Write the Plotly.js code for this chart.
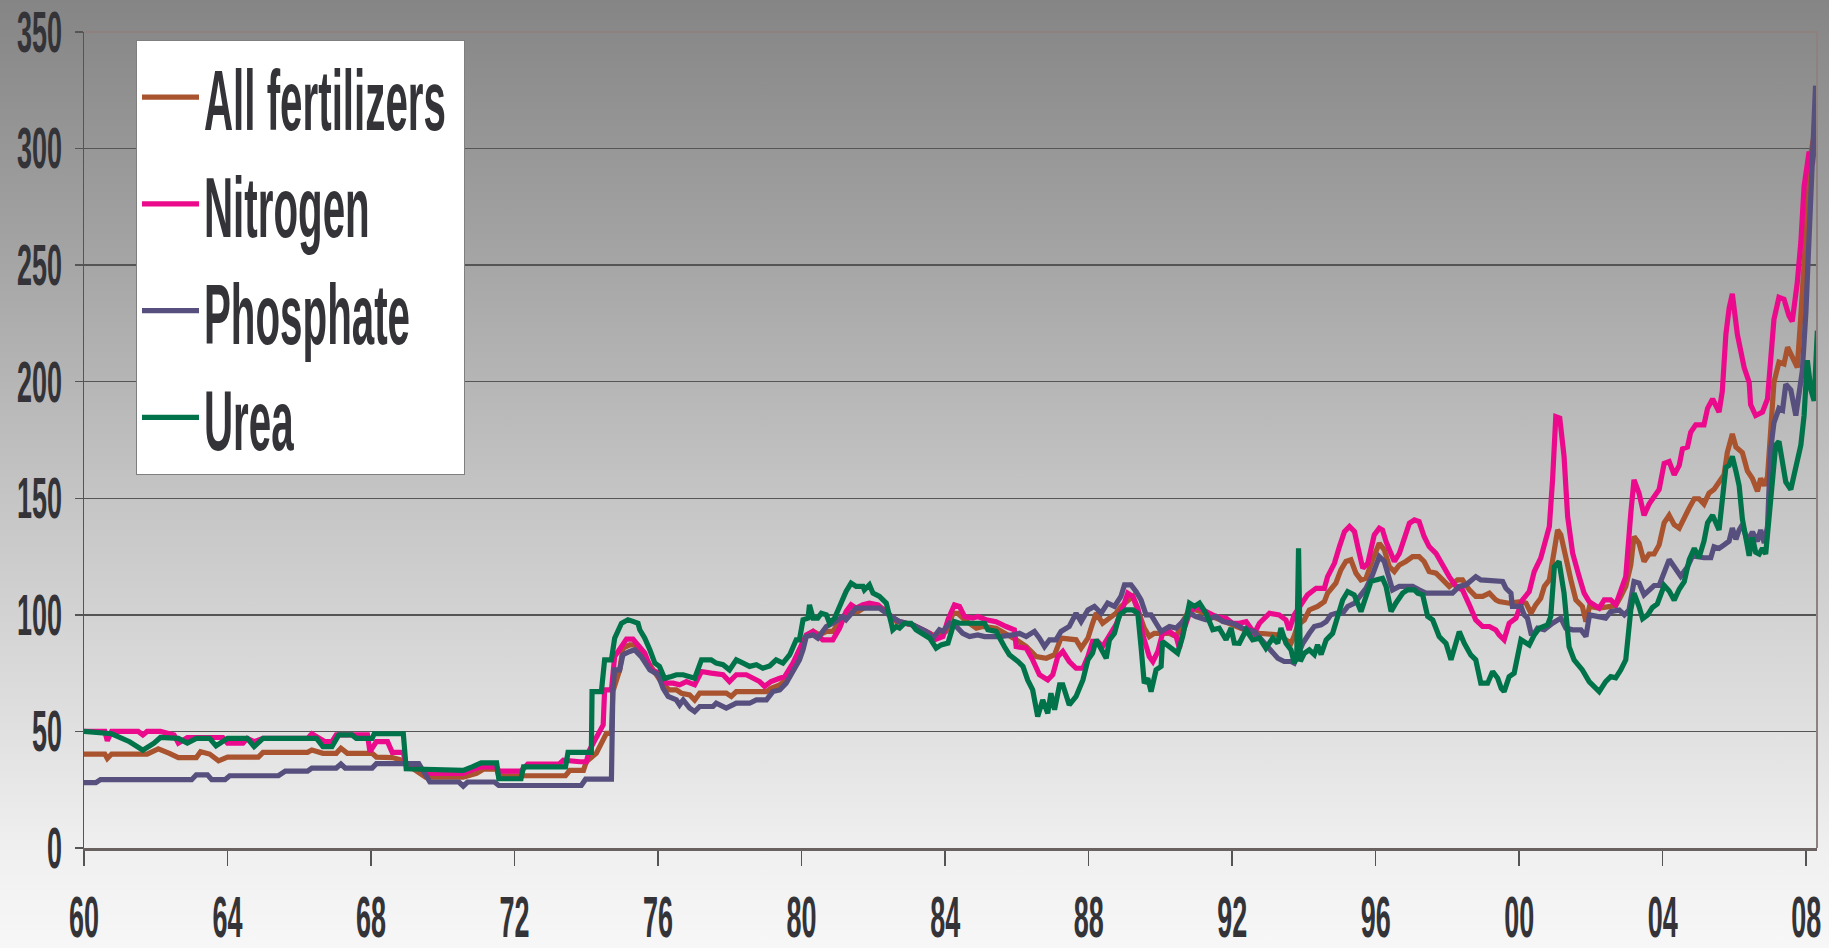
<!DOCTYPE html>
<html>
<head>
<meta charset="utf-8">
<script src="https://cdn.plot.ly/plotly-3.0.1.min.js"></script>
<style>
html,body{margin:0;padding:0;}
body{width:1829px;height:948px;overflow:hidden;
background:linear-gradient(to bottom,#858585 0%,#a2a2a2 25%,#c2c2c2 50%,#dedede 75%,#f0f0f0 90%,#f7f7f7 100%);}
#chart{width:1829px;height:948px;}
</style>
</head>
<body>
<div id="chart"></div>
<script>
// [year, index value]
const allFertilizers = [[1960.00,40.3],[1960.58,40.3],[1960.65,38.4],[1960.77,40.3],[1961.76,40.3],[1962.07,42.5],[1962.38,40.6],[1962.63,38.8],[1963.13,38.8],[1963.25,41.3],[1963.50,40.3],[1963.75,37.4],[1964.00,39],[1964.86,39],[1964.99,41],[1966.23,41],[1966.35,42],[1966.66,40.6],[1967.03,40.6],[1967.16,42.8],[1967.34,40.6],[1968.03,40.6],[1968.15,39],[1968.59,38.8],[1968.90,37.5],[1968.98,36],[1969.52,30.4],[1970.57,30.4],[1970.94,32],[1971.13,33.8],[1971.50,33.8],[1971.56,31],[1973.42,31],[1973.54,33.3],[1973.92,33.3],[1974.00,37],[1974.28,40.7],[1974.56,49.2],[1974.70,49.2],[1974.74,67.1],[1974.93,76.4],[1975.02,85.7],[1975.21,87.1],[1975.35,87.1],[1975.49,85],[1975.67,80.7],[1975.95,75],[1976.14,70],[1976.32,67.8],[1976.51,67.8],[1976.65,66.4],[1976.88,65.7],[1977.02,63.5],[1977.16,66.4],[1977.90,66.4],[1978.04,65],[1978.18,67.1],[1979.02,67.1],[1979.15,68.5],[1979.39,70],[1979.57,72.1],[1979.76,77.9],[1979.94,85],[1980.13,90.7],[1980.32,92.9],[1980.50,91.4],[1980.69,92.9],[1980.87,92.9],[1981.06,97.1],[1981.24,100.7],[1981.43,101.4],[1981.57,101.4],[1981.80,103.6],[1982.17,103.6],[1982.36,101.4],[1982.64,97.1],[1983.10,95.7],[1983.57,92.5],[1983.75,90.7],[1984.03,92.9],[1984.22,100.7],[1984.35,100.7],[1984.54,97.9],[1984.87,94.3],[1985.05,95],[1985.42,94.3],[1985.70,92.1],[1985.98,89.3],[1986.26,86.4],[1986.54,82.1],[1986.82,81.4],[1987.05,82.9],[1987.23,90],[1987.65,89.3],[1987.79,85.7],[1987.98,90],[1988.11,96.4],[1988.21,100.7],[1988.39,96.4],[1988.58,98.6],[1988.76,100.7],[1988.90,103.6],[1989.09,106.4],[1989.23,107.9],[1989.37,102.1],[1989.55,94.3],[1989.69,90.7],[1989.83,92.1],[1990.25,92.1],[1990.44,90.7],[1990.62,97.1],[1990.81,102.1],[1990.99,102.1],[1991.27,100.7],[1991.55,98.6],[1991.92,96.4],[1992.20,95],[1992.48,92.8],[1992.76,92.1],[1993.31,91.4],[1993.50,89.3],[1993.64,87.8],[1993.73,91],[1993.83,95.7],[1994.01,97.8],[1994.15,102.1],[1994.38,103.6],[1994.57,105.7],[1994.66,109.3],[1994.89,113.6],[1995.03,119.3],[1995.17,122.9],[1995.31,123.6],[1995.45,117.9],[1995.59,115],[1995.73,115.7],[1995.91,123.6],[1996.10,130.7],[1996.24,127.9],[1996.38,120.7],[1996.52,118.6],[1996.66,121.4],[1996.84,122.9],[1997.03,125],[1997.21,125],[1997.35,122.9],[1997.49,118.6],[1997.68,117.9],[1997.87,115],[1998.05,112.2],[1998.28,115],[1998.42,115],[1998.61,110.7],[1998.79,107.9],[1998.98,107.9],[1999.17,109.3],[1999.35,106.4],[1999.44,105.7],[1999.72,105],[2000.05,105.7],[2000.19,105],[2000.33,100.7],[2000.46,104.3],[2000.60,107.1],[2000.70,112.2],[2000.84,115],[2000.98,127.9],[2001.07,136.4],[2001.16,134.3],[2001.30,123.6],[2001.44,115],[2001.58,106.4],[2001.76,103.6],[2001.86,97.1],[2001.96,103.6],[2002.23,102.9],[2002.69,104],[2002.83,107.9],[2002.97,112.2],[2003.11,121.4],[2003.20,133.6],[2003.34,130.7],[2003.48,122.9],[2003.62,126.1],[2003.76,126.1],[2003.90,130],[2004.04,139.5],[2004.18,142.7],[2004.32,138.7],[2004.46,137.2],[2004.60,142],[2004.74,145.9],[2004.88,149.8],[2005.01,149.8],[2005.15,147.5],[2005.29,152.2],[2005.43,153.8],[2005.57,157],[2005.71,160.1],[2005.80,169.6],[2005.94,177.6],[2006.04,172],[2006.22,169.6],[2006.36,161.7],[2006.50,158.5],[2006.64,153],[2006.73,158.5],[2006.83,155.4],[2006.92,159.3],[2007.01,179.1],[2007.10,199.7],[2007.24,208.4],[2007.38,207.6],[2007.48,214.8],[2007.61,210.8],[2007.75,206.1],[2007.85,228.2],[2007.94,248.8],[2008.03,274.2],[2008.13,297.9],[2008.22,305.9],[2008.31,309]];

const nitrogen = [[1960.00,50],[1960.58,50],[1960.65,46],[1960.77,50],[1961.51,50],[1961.64,48.5],[1961.76,50],[1962.13,50],[1962.51,48.5],[1962.63,45],[1962.88,47.4],[1963.87,47.4],[1964.00,45],[1964.43,45],[1964.55,47],[1964.74,45.6],[1964.99,47],[1966.23,47],[1966.35,49],[1966.60,47],[1966.72,45.6],[1966.91,45.6],[1967.03,48.5],[1967.90,48.5],[1967.97,41.3],[1968.15,45.6],[1968.46,45.6],[1968.59,41],[1968.90,41],[1968.98,35.5],[1969.45,33.3],[1969.58,32],[1970.57,32],[1970.82,33.5],[1971.07,34.8],[1971.50,34.8],[1971.56,33],[1972.18,33],[1972.37,36],[1973.24,36],[1973.36,37.7],[1973.82,37],[1974.00,37],[1974.09,42],[1974.33,48.5],[1974.47,52.8],[1974.51,67.8],[1974.70,67.8],[1974.79,82.1],[1974.98,86.4],[1975.12,89.6],[1975.30,89.6],[1975.44,87.1],[1975.63,83.6],[1975.81,76.4],[1976.04,75],[1976.23,70.7],[1976.42,70.7],[1976.60,70],[1976.79,71.4],[1977.02,70],[1977.21,75.7],[1977.48,75],[1977.81,74.3],[1977.99,71.4],[1978.18,74.3],[1978.46,74.3],[1978.64,72.8],[1978.83,71.4],[1978.97,69.3],[1979.15,71.4],[1979.39,72.8],[1979.53,73.5],[1979.76,79.3],[1979.94,85],[1980.13,91.4],[1980.32,92.9],[1980.45,91.4],[1980.59,89.3],[1980.87,89.3],[1981.06,94.3],[1981.24,101.4],[1981.38,104.3],[1981.52,102.9],[1981.71,104.3],[1981.89,105],[1982.13,104.3],[1982.22,102.9],[1982.36,101.4],[1982.54,98.6],[1982.73,97.1],[1983.10,95.7],[1983.57,92.1],[1983.70,89.3],[1983.94,90.7],[1984.08,97.9],[1984.26,104.3],[1984.40,103.6],[1984.54,99.3],[1984.77,98.6],[1984.91,99.3],[1985.14,97.9],[1985.42,97.1],[1985.70,95],[1985.93,93.6],[1985.98,86.4],[1986.26,85.7],[1986.44,80.7],[1986.63,74.3],[1986.86,72.1],[1987.00,74.3],[1987.14,82.1],[1987.28,84.3],[1987.46,80],[1987.65,77.1],[1987.84,77.1],[1987.98,82.1],[1988.11,88.6],[1988.25,88.6],[1988.39,86.4],[1988.58,91.4],[1988.76,95.7],[1988.95,102.9],[1989.09,109.3],[1989.23,107.9],[1989.37,102.9],[1989.51,91.4],[1989.69,82.1],[1989.79,80],[1989.93,84.3],[1990.06,92.1],[1990.25,92.9],[1990.44,90.7],[1990.53,85.7],[1990.62,92.1],[1990.81,100.7],[1990.99,103.6],[1991.27,101.4],[1991.55,99.3],[1991.83,98.6],[1992.01,96.4],[1992.20,96.4],[1992.39,97.1],[1992.62,92.1],[1992.76,96.4],[1993.04,100.7],[1993.31,100],[1993.50,97.8],[1993.59,93.5],[1993.73,100],[1993.92,104.3],[1994.10,108.6],[1994.34,111.4],[1994.57,111.4],[1994.66,116.4],[1994.85,122.1],[1994.99,129.3],[1995.13,135.7],[1995.27,137.9],[1995.41,135.7],[1995.50,129.3],[1995.64,120],[1995.78,122.1],[1995.96,134.3],[1996.10,137.2],[1996.19,136.4],[1996.29,131.4],[1996.43,125.7],[1996.52,122.9],[1996.66,126.4],[1996.80,133.6],[1996.94,139.3],[1997.08,140.7],[1997.21,140],[1997.35,133.6],[1997.49,129.3],[1997.68,126.4],[1997.87,120.7],[1998.05,116.4],[1998.24,112.2],[1998.42,110.7],[1998.61,104.3],[1998.79,97.8],[1998.98,95],[1999.17,95],[1999.35,93.5],[1999.44,91.4],[1999.58,89.3],[1999.72,96.4],[1999.91,98.6],[2000.09,106.4],[2000.28,110],[2000.42,118.6],[2000.60,124.3],[2000.74,132.2],[2000.84,137.9],[2000.93,157.9],[2001.02,185],[2001.13,184.4],[2001.25,168],[2001.35,142.2],[2001.49,126.4],[2001.67,116.4],[2001.81,109.3],[2001.95,105.7],[2002.09,104.3],[2002.23,102.9],[2002.37,106.4],[2002.55,106.4],[2002.69,104.3],[2002.83,110.7],[2002.97,116.4],[2003.11,143.6],[2003.20,157.9],[2003.34,152.2],[2003.48,142.7],[2003.62,147.5],[2003.76,150.6],[2003.90,153.8],[2004.04,164.9],[2004.18,165.7],[2004.32,160.1],[2004.46,164.1],[2004.55,171.2],[2004.69,172],[2004.78,178.3],[2004.92,181.5],[2005.15,181.5],[2005.25,188.6],[2005.39,192.6],[2005.57,187],[2005.66,195.8],[2005.76,220.3],[2005.85,231.4],[2005.94,237.7],[2006.08,220.3],[2006.27,206.1],[2006.41,199.7],[2006.45,190.2],[2006.59,185.5],[2006.78,187],[2006.92,192.6],[2007.01,209.2],[2007.10,226.7],[2007.24,236.2],[2007.38,235.4],[2007.52,228.2],[2007.61,225.9],[2007.75,242.5],[2007.85,259.9],[2007.94,283.7],[2008.08,298.7],[2008.17,293.2],[2008.26,304.3],[2008.31,312]];

const phosphate = [[1960.00,28],[1960.33,28],[1960.46,29.3],[1963.00,29.3],[1963.13,31.4],[1963.44,31.4],[1963.56,29.3],[1963.93,29.3],[1964.06,31],[1965.42,31],[1965.61,33],[1966.23,33],[1966.35,34.3],[1967.03,34.3],[1967.16,36],[1967.28,34.3],[1968.03,34.3],[1968.15,36.2],[1969.33,36.2],[1969.52,31],[1969.64,28.3],[1970.45,28.3],[1970.57,26.5],[1970.69,28.3],[1971.44,28.3],[1971.56,26.8],[1973.86,26.8],[1973.98,29.5],[1974.70,29.5],[1974.74,67.8],[1974.79,76.4],[1974.93,76.4],[1975.02,82.9],[1975.21,84.3],[1975.35,85],[1975.53,82.1],[1975.77,76.4],[1976.00,74.3],[1976.14,68.5],[1976.28,65],[1976.51,63.5],[1976.60,61.4],[1976.70,63.5],[1976.88,60],[1977.02,58.5],[1977.16,60.7],[1977.53,60.7],[1977.62,62.1],[1977.90,60],[1978.18,62.1],[1978.55,62.1],[1978.74,63.5],[1979.02,63.5],[1979.20,67.1],[1979.39,67.8],[1979.57,70.7],[1979.76,75.7],[1979.94,80.7],[1980.04,85],[1980.13,90.7],[1980.32,91.4],[1980.45,90],[1980.69,95],[1980.87,96.4],[1981.15,99.3],[1981.24,97.9],[1981.52,102.9],[1982.17,102.9],[1982.36,100.7],[1982.73,97.1],[1983.10,95.7],[1983.47,92.9],[1983.66,90],[1983.84,93.6],[1983.94,92.9],[1984.12,96.4],[1984.31,95],[1984.49,92.1],[1984.68,90.7],[1984.91,91.4],[1985.10,90.7],[1985.52,90.7],[1985.89,91.4],[1986.07,92.1],[1986.26,90.7],[1986.49,92.9],[1986.63,90],[1986.77,86.4],[1986.91,89.3],[1987.09,89.3],[1987.23,92.9],[1987.46,95],[1987.65,100.7],[1987.79,97.1],[1987.98,102.1],[1988.16,103.6],[1988.35,100.7],[1988.53,105],[1988.72,103.6],[1988.90,107.9],[1989.00,112.9],[1989.18,112.9],[1989.32,110],[1989.46,106.4],[1989.60,100],[1989.74,100],[1989.88,96.4],[1990.02,92.9],[1990.25,95],[1990.44,94.3],[1990.62,97.1],[1990.81,100.7],[1990.99,99.3],[1991.27,97.9],[1991.55,99.3],[1991.74,97.1],[1992.01,96.4],[1992.29,94.3],[1992.62,92.8],[1992.90,87.8],[1993.08,84.2],[1993.27,81.4],[1993.45,80],[1993.64,80],[1993.73,79.3],[1993.83,83.5],[1993.97,87.8],[1994.15,92.1],[1994.29,95],[1994.48,95.7],[1994.62,97.1],[1994.75,100],[1994.89,100.7],[1995.08,100.7],[1995.22,103.6],[1995.41,105],[1995.59,108.6],[1995.73,111.4],[1995.91,117.1],[1996.10,125],[1996.24,122.9],[1996.33,117.9],[1996.47,110.7],[1996.66,112.2],[1997.03,112.2],[1997.21,110.7],[1997.40,109.3],[1998.14,109.3],[1998.33,112.2],[1998.52,112.9],[1998.70,115],[1998.79,116.4],[1998.93,115],[1999.54,114.3],[1999.63,111.4],[1999.77,109.3],[1999.81,103.6],[2000.05,103.6],[2000.14,100],[2000.23,98.6],[2000.33,92.1],[2000.42,92.1],[2000.51,94.3],[2000.70,93.6],[2000.93,96.4],[2001.16,98.6],[2001.30,94.3],[2001.49,93.6],[2001.72,93.6],[2001.86,90.7],[2001.96,100],[2002.23,99.3],[2002.41,98.6],[2002.55,101.4],[2002.79,102.1],[2002.93,100],[2003.06,102.1],[2003.20,114.3],[2003.34,113.6],[2003.48,108.6],[2003.62,111],[2003.76,112.6],[2003.90,112.6],[2004.04,118.2],[2004.18,123.7],[2004.32,120.6],[2004.50,116.6],[2004.69,120.6],[2004.83,125.3],[2005.15,124.5],[2005.34,124.5],[2005.43,129.2],[2005.57,128.5],[2005.71,130],[2005.85,131.6],[2005.94,137.2],[2006.04,132.4],[2006.13,136.4],[2006.22,138.7],[2006.36,131.6],[2006.50,135.6],[2006.64,131.6],[2006.73,136.4],[2006.83,130.8],[2006.92,137.9],[2007.01,171.2],[2007.10,182.3],[2007.24,188.6],[2007.34,187.8],[2007.43,198.9],[2007.57,196.5],[2007.71,185.5],[2007.80,193.4],[2007.89,204.5],[2007.99,229.8],[2008.08,266.3],[2008.17,296.4],[2008.26,327]];

const urea = [[1960.00,50],[1960.77,49],[1961.27,45.6],[1961.64,42],[1961.95,45],[1962.13,47.4],[1962.63,47],[1962.88,45],[1963.13,47],[1963.50,47],[1963.68,43.8],[1964.00,47],[1964.55,47],[1964.74,43.5],[1964.99,47],[1966.48,47],[1966.66,43.5],[1966.91,43.5],[1967.10,48.5],[1967.47,48.5],[1967.59,47],[1968.03,47],[1968.09,49],[1968.90,49],[1968.98,34],[1970.57,33.3],[1970.82,34.8],[1971.07,36.5],[1971.50,36.5],[1971.56,29.7],[1972.18,29.7],[1972.25,34.8],[1973.42,34.8],[1973.49,41],[1974.14,41],[1974.16,67.1],[1974.42,67.1],[1974.51,80.7],[1974.70,80.7],[1974.79,90],[1974.98,96.4],[1975.16,97.9],[1975.30,97.2],[1975.44,96.4],[1975.49,93.6],[1975.63,90],[1975.77,85],[1975.91,79.3],[1976.04,77.9],[1976.18,72.8],[1976.37,73.6],[1976.51,74.3],[1976.70,74.3],[1976.88,73.5],[1977.02,72.8],[1977.21,80.7],[1977.48,80.7],[1977.62,79.3],[1977.81,78.6],[1977.99,76.4],[1978.18,80.7],[1978.37,79.3],[1978.55,77.9],[1978.74,78.6],[1978.92,77.1],[1979.11,78.1],[1979.29,80.7],[1979.48,79.3],[1979.67,82.9],[1979.85,89.3],[1979.94,89.3],[1980.04,97.9],[1980.18,98.6],[1980.22,104.3],[1980.32,98.6],[1980.45,98.6],[1980.55,100.7],[1980.69,100],[1980.78,96.4],[1980.92,98.6],[1981.06,103.6],[1981.24,110],[1981.38,113.6],[1981.52,112.2],[1981.71,112.2],[1981.75,110.7],[1981.89,112.9],[1981.99,109.3],[1982.17,107.9],[1982.36,105],[1982.50,96.4],[1982.54,93.6],[1982.64,95],[1982.73,94.3],[1982.87,96.4],[1983.05,96.4],[1983.19,93.6],[1983.38,92.1],[1983.57,90],[1983.75,85.7],[1983.89,87.1],[1984.08,87.9],[1984.26,97.1],[1984.40,96.4],[1985.10,96.4],[1985.19,93.6],[1985.42,92.9],[1985.65,86.4],[1985.79,82.9],[1986.03,80],[1986.17,77.9],[1986.30,72.1],[1986.44,67.8],[1986.58,56.4],[1986.72,63.5],[1986.86,57.8],[1986.95,66.4],[1987.05,59.3],[1987.19,70],[1987.28,70],[1987.46,61.4],[1987.65,65],[1987.84,72.1],[1987.98,80.7],[1988.11,83.6],[1988.21,89.3],[1988.39,84.3],[1988.49,81.4],[1988.58,89.3],[1988.72,92.1],[1988.86,100],[1989.04,102.1],[1989.23,102.1],[1989.37,100.7],[1989.46,86.4],[1989.55,70.7],[1989.65,72.8],[1989.74,67.1],[1989.88,76.4],[1990.02,77.9],[1990.06,88.6],[1990.25,86.4],[1990.48,83.6],[1990.62,90.7],[1990.81,105],[1990.95,103.6],[1991.09,105],[1991.27,100.7],[1991.46,93.6],[1991.64,94.3],[1991.83,89.3],[1991.97,94.3],[1992.06,87.9],[1992.20,87.8],[1992.39,93.5],[1992.57,89.3],[1992.76,90],[1992.94,85.7],[1993.13,90],[1993.27,87.8],[1993.36,94.3],[1993.50,87.8],[1993.64,85],[1993.73,79.3],[1993.80,82],[1993.85,128.6],[1993.90,80],[1994.01,83.5],[1994.15,85],[1994.29,83],[1994.38,87.1],[1994.48,83],[1994.62,89.3],[1994.80,92.1],[1994.94,100],[1995.08,106.4],[1995.22,110],[1995.40,108.6],[1995.59,101.4],[1995.73,107.9],[1995.87,114.3],[1996.01,115],[1996.19,115.7],[1996.29,112.2],[1996.43,101.4],[1996.56,105],[1996.75,109.3],[1996.89,110.7],[1997.08,110.7],[1997.17,109.3],[1997.31,108.6],[1997.45,99.3],[1997.59,97.8],[1997.77,90.7],[1997.96,87.8],[1998.10,80.7],[1998.24,87.8],[1998.33,92.8],[1998.47,87.8],[1998.65,82.8],[1998.79,80.7],[1998.93,70.7],[1999.12,70.7],[1999.26,75.7],[1999.40,72.8],[1999.50,68.5],[1999.58,67.1],[1999.72,73.5],[1999.86,75],[2000.05,89.3],[2000.28,87.1],[2000.42,91.4],[2000.56,94.3],[2000.79,95.7],[2000.88,99.3],[2000.98,120.7],[2001.11,122.9],[2001.25,109.3],[2001.39,86.4],[2001.53,80.7],[2001.76,76.4],[2001.95,71.4],[2002.23,67.1],[2002.41,71.4],[2002.55,73.5],[2002.69,73],[2002.83,76.4],[2002.97,80.7],[2003.11,102.1],[2003.20,109.3],[2003.34,103.6],[2003.44,98.4],[2003.58,100],[2003.71,103.1],[2003.85,104.7],[2004.04,112.6],[2004.18,110.2],[2004.32,106.3],[2004.46,111],[2004.60,114.2],[2004.74,123.7],[2004.88,128.5],[2005.01,124.5],[2005.15,131.6],[2005.25,139.5],[2005.39,142.7],[2005.57,136.4],[2005.66,147.5],[2005.76,163.3],[2005.85,164.1],[2005.94,168],[2006.04,161.7],[2006.13,155.4],[2006.22,141.1],[2006.31,133.2],[2006.41,125.3],[2006.50,133.2],[2006.59,126.9],[2006.69,126.1],[2006.78,128.5],[2006.87,126.1],[2006.96,141.1],[2007.06,163.3],[2007.15,172.8],[2007.24,174.4],[2007.43,157],[2007.57,153.8],[2007.71,163.3],[2007.85,172.8],[2007.94,185.5],[2008.03,209.2],[2008.13,196.5],[2008.22,191.8],[2008.31,221.9]];

const seriesNames = ['All fertilizers', 'Nitrogen', 'Phosphate', 'Urea'];
const seriesColors = ['#a9532f', '#ec0a8c', '#574f7d', '#00734a'];
const seriesData = [allFertilizers, nitrogen, phosphate, urea];
const xTickVals = [1960, 1964, 1968, 1972, 1976, 1980, 1984, 1988, 1992, 1996, 2000, 2004, 2008];
const xTickText = ['60', '64', '68', '72', '76', '80', '84', '88', '92', '96', '00', '04', '08'];
const yTickVals = [0, 50, 100, 150, 200, 250, 300, 350];

const FONT = '"Liberation Sans Narrow","Liberation Sans",Arial,sans-serif';
const TXT = '#333338';

const traces = seriesData.map((d, i) => ({
  type: 'scatter', mode: 'lines', name: seriesNames[i], legendgroup: 'g' + i,
  x: d.map(p => p[0]), y: d.map(p => p[1]),
  line: { color: seriesColors[i], width: 5.2 }, hoverinfo: 'skip'
}));

const layout = {
  width: 1829, height: 948,
  margin: { l: 84, r: 12, t: 32, b: 100, pad: 0 },
  paper_bgcolor: 'rgba(0,0,0,0)', plot_bgcolor: 'rgba(0,0,0,0)',
  showlegend: true,
  legend: {
    x: 0.03, y: 0.99, xanchor: 'left', yanchor: 'top',
    bgcolor: '#ffffff', bordercolor: '#7f7f7f', borderwidth: 1,
    font: { family: FONT, size: 76, color: TXT, weight: 'bold' },
    itemwidth: 57, tracegroupgap: 5, traceorder: 'grouped'
  },
  xaxis: {
    range: [1960, 2008.3], tickvals: xTickVals, ticktext: xTickText,
    ticks: 'outside', ticklen: 15, tickwidth: 1.5, tickcolor: '#555555',
    showline: true, linecolor: '#6a6260', linewidth: 2.5,
    showgrid: false, zeroline: false, automargin: false,
    ticklabeloverflow: 'allow',
    tickfont: { family: FONT, size: 48, color: TXT, weight: 'bold' },
    ticklabelstandoff: 11
  },
  yaxis: {
    range: [0, 350], tickvals: yTickVals,
    ticks: 'outside', ticklen: 8, tickwidth: 1.5, tickcolor: '#555555',
    showline: true, linecolor: '#555555', linewidth: 1.5,
    showgrid: true, gridcolor: '#555555', gridwidth: 1.3,
    zeroline: false, automargin: false,
    ticklabeloverflow: 'allow',
    tickfont: { family: FONT, size: 48, color: TXT, weight: 'bold' },
    ticklabelstandoff: 3
  },
  shapes: [{
    type: 'path', xref: 'paper', yref: 'paper', path: 'M0,1L1,1L1,0',
    line: { color: '#8f817d', width: 2 }, layer: 'above'
  }]
};

function anchorOf(t) {
  return t.getAttribute('text-anchor') || getComputedStyle(t).textAnchor || 'start';
}
// reshape text into the compressed, tall bold face of the reference, around its anchor point
function reshape(nodes, sx, sy) {
  nodes.forEach(t => {
    const b = t.getBBox();
    const fs = parseFloat(getComputedStyle(t).fontSize) || 0;
    const a = anchorOf(t);
    const cx = a === 'end' ? b.x + b.width : (a === 'middle' ? b.x + b.width / 2 : b.x);
    const cy = b.y + 0.545 * fs;
    const tr = t.getAttribute('transform') || '';
    t.setAttribute('transform', tr + ' translate(' + cx + ',' + cy + ') scale(' + sx + ',' + sy + ') translate(' + (-cx) + ',' + (-cy) + ')');
  });
}

Plotly.newPlot('chart', traces, layout, { staticPlot: true, displayModeBar: false }).then(gd => {
  const tickTexts = Array.from(gd.querySelectorAll('.xtick text, .ytick text'));
  const ref = tickTexts.find(t => t.textContent === '350');
  const sxTick = ref ? 45 / ref.getComputedTextLength() : 1;
  reshape(tickTexts, sxTick, 1.18);
  const legTexts = Array.from(gd.querySelectorAll('.legend .legendtext'));
  const refL = legTexts.find(t => t.textContent === 'All fertilizers');
  const sxLeg = refL ? 242 / refL.getComputedTextLength() : 1;
  reshape(legTexts, sxLeg, 1.12);
  const bg = gd.querySelector('.legend rect.bg');
  if (bg) bg.setAttribute('width', 328);
});
</script>
</body>
</html>
